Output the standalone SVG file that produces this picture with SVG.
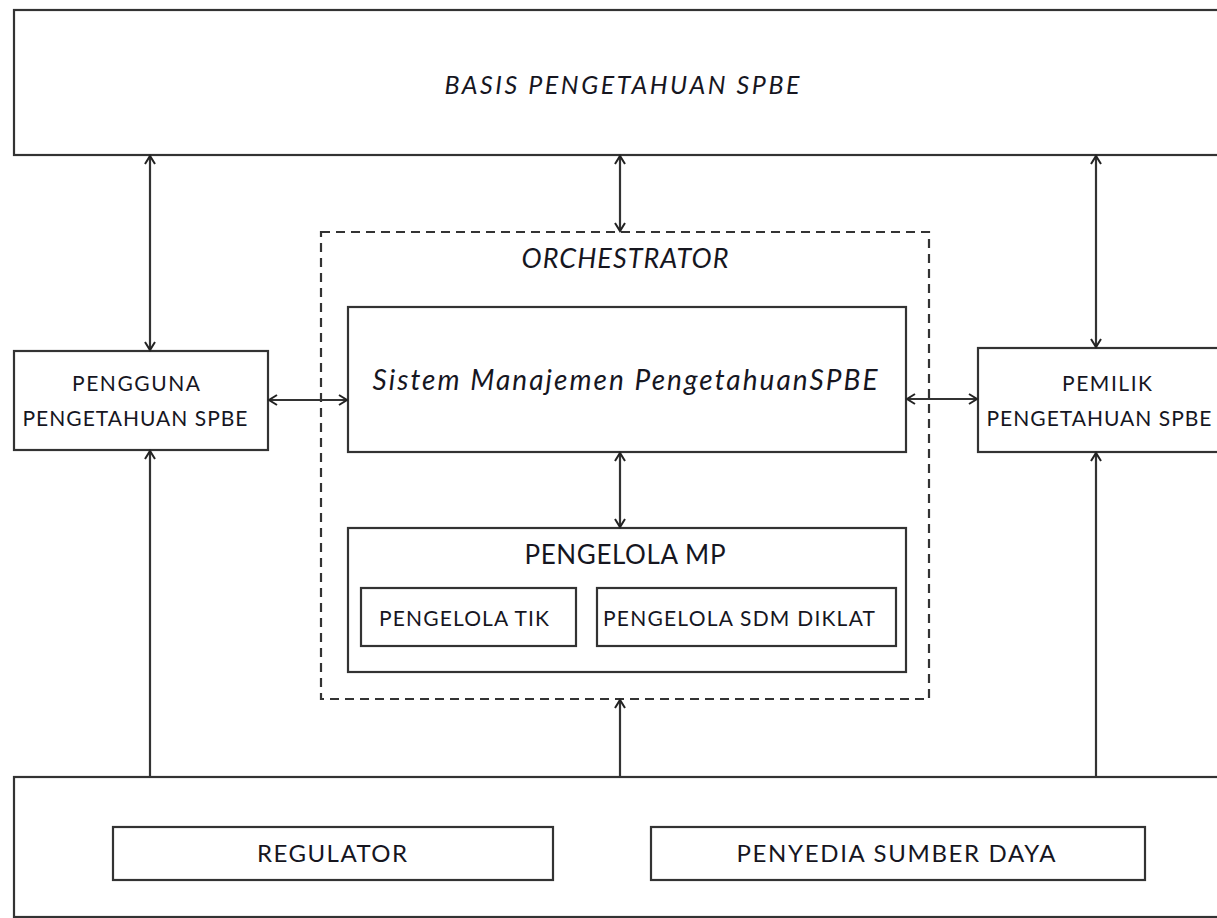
<svg xmlns="http://www.w3.org/2000/svg" width="1217" height="918" viewBox="0 0 1217 918">
<style>
.box{fill:#fff;stroke:#333;stroke-width:2.2}
.dash{fill:none;stroke:#333;stroke-width:2.2;stroke-dasharray:9 6}
.con{fill:none;stroke:#333;stroke-width:2.2}
.t{font-family:Lato,"Open Sans","Liberation Sans",sans-serif;fill:#16161f;text-anchor:middle}
.i{font-style:italic}
</style>
<defs>
<marker id="ah" markerUnits="userSpaceOnUse" markerWidth="14" markerHeight="14" viewBox="0 0 14 14" refX="11" refY="7" orient="auto-start-reverse">
<path d="M3,2 L11,7 L3,12" fill="none" stroke="#222" stroke-width="2"/>
</marker>
</defs>
<rect width="1217" height="918" fill="#fff"/>
<g id="basis">
<rect class="box" x="14" y="10" width="1215" height="145"/>
<text class="t i" x="622" y="94" font-size="25" textLength="355" lengthAdjust="spacing">BASIS PENGETAHUAN SPBE</text>
</g>
<g id="orchestrator">
<rect class="dash" x="321" y="232" width="608" height="467"/>
<text class="t i" x="625" y="268" font-size="27" textLength="207" lengthAdjust="spacing">ORCHESTRATOR</text>
</g>
<g id="sistem">
<rect class="box" x="348" y="307" width="558" height="145"/>
<text class="t i" x="625" y="390" font-size="28" textLength="505" lengthAdjust="spacing">Sistem Manajemen PengetahuanSPBE</text>
</g>
<g id="pengelola-mp">
<rect class="box" x="348" y="528" width="558" height="144"/>
<text class="t" x="625" y="564" font-size="26" textLength="201" lengthAdjust="spacing">PENGELOLA MP</text>
</g>
<g id="pengelola-tik">
<rect class="box" x="361" y="588" width="215" height="58"/>
<text class="t" x="464" y="626" font-size="21" textLength="170" lengthAdjust="spacing">PENGELOLA TIK</text>
</g>
<g id="pengelola-sdm">
<rect class="box" x="597" y="588" width="299" height="58"/>
<text class="t" x="739" y="626" font-size="21" textLength="272" lengthAdjust="spacing">PENGELOLA SDM DIKLAT</text>
</g>
<g id="pengguna">
<rect class="box" x="14" y="351" width="254" height="99"/>
<text class="t" x="136" y="391" font-size="21" textLength="128" lengthAdjust="spacing">PENGGUNA</text>
<text class="t" x="135" y="426" font-size="21" textLength="225" lengthAdjust="spacing">PENGETAHUAN SPBE</text>
</g>
<g id="pemilik">
<rect class="box" x="978" y="348" width="250" height="104"/>
<text class="t" x="1107" y="391" font-size="21" textLength="90" lengthAdjust="spacing">PEMILIK</text>
<text class="t" x="1099" y="426" font-size="21" textLength="225" lengthAdjust="spacing">PENGETAHUAN SPBE</text>
</g>
<g id="bawah">
<rect class="box" x="14" y="777" width="1215" height="140"/>
</g>
<g id="regulator">
<rect class="box" x="113" y="827" width="440" height="53"/>
<text class="t" x="332" y="862" font-size="24" textLength="150" lengthAdjust="spacing">REGULATOR</text>
</g>
<g id="penyedia">
<rect class="box" x="651" y="827" width="494" height="53"/>
<text class="t" x="896" y="862" font-size="24" textLength="319" lengthAdjust="spacing">PENYEDIA SUMBER DAYA</text>
</g>
<g id="connectors">
<line class="con" x1="150" y1="156" x2="150" y2="350" marker-start="url(#ah)" marker-end="url(#ah)"/>
<line class="con" x1="620" y1="156" x2="620" y2="231" marker-start="url(#ah)" marker-end="url(#ah)"/>
<line class="con" x1="1096" y1="156" x2="1096" y2="347" marker-start="url(#ah)" marker-end="url(#ah)"/>
<line class="con" x1="269" y1="400" x2="347" y2="400" marker-start="url(#ah)" marker-end="url(#ah)"/>
<line class="con" x1="907" y1="399" x2="977" y2="399" marker-start="url(#ah)" marker-end="url(#ah)"/>
<line class="con" x1="620" y1="453" x2="620" y2="527" marker-start="url(#ah)" marker-end="url(#ah)"/>
<line class="con" x1="150" y1="776" x2="150" y2="451" marker-end="url(#ah)"/>
<line class="con" x1="620" y1="776" x2="620" y2="700" marker-end="url(#ah)"/>
<line class="con" x1="1096" y1="776" x2="1096" y2="453" marker-end="url(#ah)"/>
</g>
</svg>
